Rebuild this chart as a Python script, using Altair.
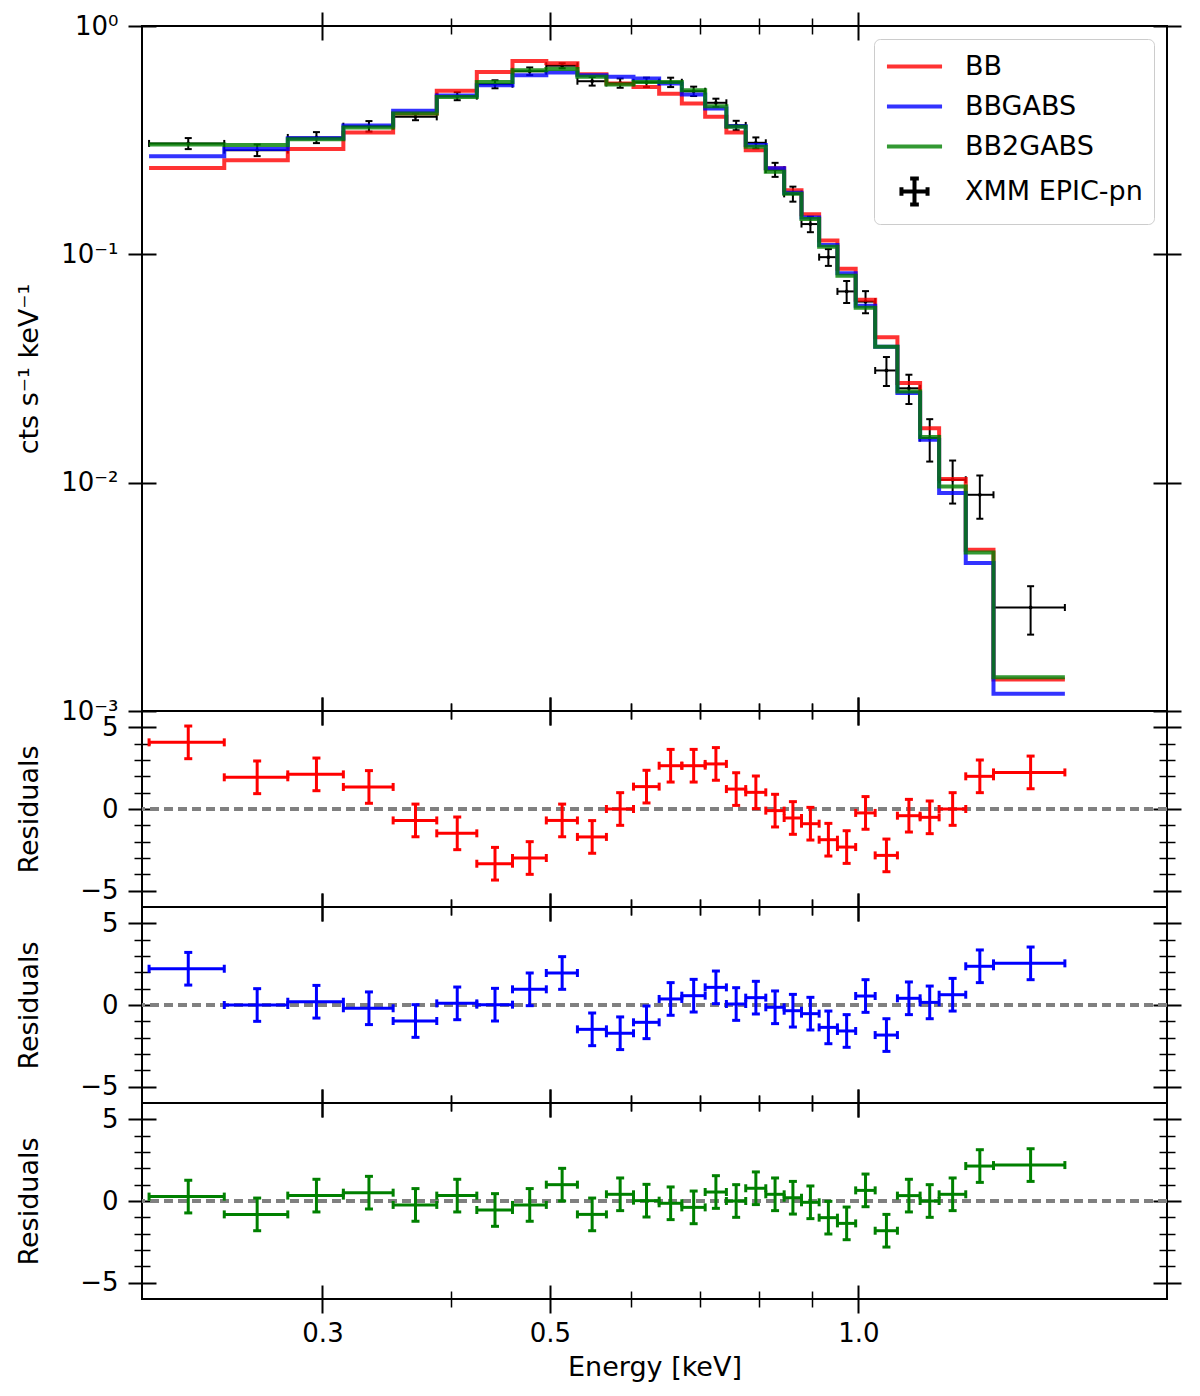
import altair as alt
import pandas as pd

# --- grouped spectrum: bin edges in keV (30 edges -> 29 bins)
EDGES = [0.2032, 0.2406, 0.2775, 0.3144, 0.3516, 0.3878, 0.4243, 0.4597, 0.4960, 0.5319,
         0.5677, 0.6033, 0.6391, 0.6725, 0.7087, 0.7433, 0.7763, 0.8121, 0.8463, 0.8799,
         0.9155, 0.9539, 0.9938, 1.0383, 1.0915, 1.1486, 1.1987, 1.2726, 1.3544, 1.5900]

# --- XMM EPIC-pn data (cts/s/keV) and 1-sigma errors
RATE = [0.306, 0.286, 0.325, 0.364, 0.400, 0.493, 0.556, 0.634, 0.670, 0.573,
        0.563, 0.567, 0.567, 0.518, 0.461, 0.367, 0.308, 0.235, 0.184, 0.1357,
        0.0972, 0.0688, 0.0621, 0.0310, 0.0259, 0.01567, 0.0103, 0.00885, 0.00284]
RATE_ERR = [0.0170, 0.0167, 0.0180, 0.0194, 0.0133, 0.0199, 0.0224, 0.0243, 0.0168, 0.0248,
            0.0266, 0.0268, 0.0268, 0.0245, 0.0195, 0.0174, 0.0171, 0.0166, 0.0139, 0.0107,
            0.0082, 0.0076, 0.0069, 0.0045, 0.0038, 0.0033, 0.0022, 0.0019, 0.00068]

# --- folded models
MODEL_BB = [0.239, 0.258, 0.289, 0.342, 0.414, 0.520, 0.629, 0.703, 0.687, 0.615,
            0.560, 0.541, 0.505, 0.458, 0.400, 0.342, 0.286, 0.238, 0.191, 0.150,
            0.1150, 0.0865, 0.0633, 0.0433, 0.0273, 0.01733, 0.01037, 0.00509, 0.001374]
MODEL_BBGABS = [0.269, 0.289, 0.322, 0.367, 0.425, 0.496, 0.550, 0.609, 0.625, 0.609,
                0.600, 0.589, 0.560, 0.501, 0.435, 0.364, 0.301, 0.238, 0.186, 0.145,
                0.1098, 0.0826, 0.0595, 0.0394, 0.0247, 0.0154, 0.0090, 0.00445, 0.00119]
MODEL_BB2GABS = [0.303, 0.301, 0.319, 0.359, 0.414, 0.489, 0.569, 0.640, 0.648, 0.600,
                 0.554, 0.569, 0.569, 0.523, 0.445, 0.362, 0.296, 0.230, 0.184, 0.1427,
                 0.108, 0.0805, 0.0583, 0.0394, 0.0251, 0.01583, 0.00962, 0.00495, 0.001406]

# --- residuals (data - model) / sigma
RESID_BB = [4.08, 1.94, 2.12, 1.35, -0.70, -1.49, -3.35, -3.00, -0.70, -1.71,
            0.00, 1.37, 2.65, 2.65, 2.76, 1.22, 1.02, -0.10, -0.55, -0.90,
            -1.88, -2.33, -0.24, -2.84, -0.41, -0.51, 0.00, 2.00, 2.24]
RESID_BBGABS = [2.22, 0.00, 0.20, -0.20, -0.98, 0.10, 0.02, 0.96, 1.96, -1.49,
                -1.73, -1.06, 0.37, 0.57, 1.08, 0.06, 0.45, -0.14, -0.35, -0.53,
                -1.37, -1.59, 0.55, -1.84, 0.41, 0.16, 0.63, 2.37, 2.55]
RESID_BB2GABS = [0.27, -0.82, 0.33, 0.51, -0.24, 0.33, -0.55, -0.24, 1.00, -0.82,
                 0.41, 0.02, -0.14, -0.39, 0.55, 0.00, 0.78, 0.41, 0.20, -0.08,
                 -1.02, -1.37, 0.65, -1.82, 0.33, 0.00, 0.41, 2.14, 2.20]
RESID_SIGMA = 1.0

MODELS = ["BB", "BBGABS", "BB2GABS"]
LEGEND_NAMES = MODELS + ["XMM EPIC-pn"]
LINE_COLORS = ["red", "blue", "green"]
LEGEND_COLORS = ["#ff3333", "#3333ff", "#339933", "black"]

# ticks
X_MAJOR = [0.3, 0.5, 1.0]
X_MINOR = [0.4, 0.6, 0.7, 0.8, 0.9]
Y_MAJOR = [1.0, 0.1, 0.01, 0.001]
R_MAJOR = [-5, 0, 5]
R_MINOR = [-4, -3, -2, -1, 1, 2, 3, 4]

W, H_TOP, H_RES = 1025, 685, 196
MAJ, MIN = 28, 16

# --- tables
lo, hi = EDGES[:-1], EDGES[1:]
df = pd.DataFrame({"e_lo": lo, "e_hi": hi, "e_mid": [(a + b) / 2 for a, b in zip(lo, hi)]})
df["rate"] = RATE
df["rate_lo"] = [r - e for r, e in zip(RATE, RATE_ERR)]
df["rate_hi"] = [r + e for r, e in zip(RATE, RATE_ERR)]
for name, res in zip(MODELS, [RESID_BB, RESID_BBGABS, RESID_BB2GABS]):
    df["r_" + name] = res
    df["r_" + name + "_lo"] = [r - RESID_SIGMA for r in res]
    df["r_" + name + "_hi"] = [r + RESID_SIGMA for r in res]

steps = []
for name, vals in zip(MODELS, [MODEL_BB, MODEL_BBGABS, MODEL_BB2GABS]):
    for e, v in zip(EDGES, vals + vals[-1:]):
        steps.append({"model": name, "energy": e, "rate": v})
steps = pd.DataFrame(steps)

xscale = alt.Scale(type="log", domain=[0.2, 2.0], nice=False)
yscale_top = alt.Scale(type="log", domain=[0.001, 1.0], nice=False)
yscale_res = alt.Scale(domain=[-6, 6], nice=False, zero=False)

TOP_LABELS = ("datum.value >= 0.5 ? '10⁰' : datum.value >= 0.05 ? '10⁻¹' : "
              "datum.value >= 0.005 ? '10⁻²' : '10⁻³'")


def tick_layers(yfield, yscale, y_major, y_minor, y_title, height, bottom_labels, label_expr=None):
    """Invisible layers carrying in-out ticks on all four sides."""
    out = []
    for xo, yo, major in [("bottom", "left", True), ("bottom", "left", False),
                          ("top", "right", True), ("top", "right", False)]:
        size = MAJ if major else MIN
        common = dict(tickSize=size, offset=-size / 2, domain=False, grid=False,
                      tickWidth=2 if major else 1.5, tickColor="black")
        xkw = dict(common, orient=xo, values=X_MAJOR if major else X_MINOR,
                   labels=False, title=None)
        if major and xo == "bottom" and bottom_labels:
            xkw.update(labels=True, format=".1f", labelPadding=7,
                       title="Energy [keV]", titlePadding=8)
        yvals = y_major if major else y_minor
        if yvals:
            ykw = dict(common, orient=yo, values=yvals, labels=False, title=None)
            if major and yo == "left":
                ykw.update(labels=True, labelPadding=10, title=y_title,
                           titleX=-127, titleY=height / 2, titleAngle=270,
                           titleAlign="center", titleBaseline="middle")
                if label_expr:
                    ykw["labelExpr"] = label_expr
            yaxis = alt.Axis(**ykw)
        else:
            yaxis = None
        out.append(alt.Chart(df).mark_point(opacity=0).encode(
            x=alt.X("e_mid:Q", scale=xscale, axis=alt.Axis(**xkw)),
            y=alt.Y(f"{yfield}:Q", scale=yscale, axis=yaxis),
        ))
    return out


def errorbars(ycol, ylo, yhi, yscale, color, width, cap):
    base = alt.Chart(df)
    hbar = base.mark_rule(color=color, strokeWidth=width).encode(
        x=alt.X("e_lo:Q", scale=xscale, axis=None), x2="e_hi:Q",
        y=alt.Y(f"{ycol}:Q", scale=yscale, axis=None))
    vbar = base.mark_rule(color=color, strokeWidth=width).encode(
        x=alt.X("e_mid:Q", scale=xscale, axis=None),
        y=alt.Y(f"{ylo}:Q", scale=yscale, axis=None), y2=f"{yhi}:Q")
    caps = []
    for xc in ["e_lo", "e_hi"]:
        caps.append(base.mark_tick(orient="vertical", color=color, size=cap,
                                   thickness=width, opacity=1).encode(
            x=alt.X(f"{xc}:Q", scale=xscale, axis=None),
            y=alt.Y(f"{ycol}:Q", scale=yscale, axis=None)))
    for yc in [ylo, yhi]:
        caps.append(base.mark_tick(orient="horizontal", color=color, size=cap,
                                   thickness=width, opacity=1).encode(
            x=alt.X("e_mid:Q", scale=xscale, axis=None),
            y=alt.Y(f"{yc}:Q", scale=yscale, axis=None)))
    return [hbar, vbar] + caps


# --- top panel: spectrum + models
dots = alt.Chart(df).mark_circle(color="black", size=14, opacity=1).encode(
    x=alt.X("e_mid:Q", scale=xscale, axis=None),
    y=alt.Y("rate:Q", scale=yscale_top, axis=None))

lines = []
for name, col in zip(MODELS, LINE_COLORS):
    lines.append(alt.Chart(steps).mark_line(
        interpolate="step-after", color=col, strokeWidth=4, opacity=0.8
    ).encode(
        x=alt.X("energy:Q", scale=xscale, axis=None),
        y=alt.Y("rate:Q", scale=yscale_top, axis=None),
    ).transform_filter(alt.datum.model == name))

# legend swatches: a long line for the models, an error-bar cross for the data
LINE_SYM = "M-1.9,0H1.9"
CROSS = ("M-0.9,0H0.9M0,-0.9V0.9M-0.9,-0.3V0.3M0.9,-0.3V0.3"
         "M-0.3,-0.9H0.3M-0.3,0.9H0.3")
legend_layer = alt.Chart(pd.DataFrame({"series": LEGEND_NAMES})).mark_point(
    filled=False, opacity=1
).encode(
    color=alt.Color("series:N", scale=alt.Scale(domain=LEGEND_NAMES, range=LEGEND_COLORS),
                    legend=alt.Legend(title=None)),
    shape=alt.Shape("series:N", scale=alt.Scale(domain=LEGEND_NAMES,
                                                range=[LINE_SYM, LINE_SYM, LINE_SYM, CROSS]),
                    legend=alt.Legend(title=None)),
).transform_filter("false")

top = alt.layer(
    *tick_layers("rate", yscale_top, Y_MAJOR, [], "cts s⁻¹ keV⁻¹", H_TOP, False, TOP_LABELS),
    *errorbars("rate", "rate_lo", "rate_hi", yscale_top, "black", 2, 7),
    dots, *lines, legend_layer,
).resolve_axis(x="independent", y="independent").properties(width=W, height=H_TOP)


# --- residual panels
def residual_panel(name, color, last):
    zero = alt.Chart(df).mark_rule(color="#808080", strokeWidth=2.5,
                                   strokeDash=[9, 5]).encode(
        y=alt.YDatum(0, scale=yscale_res, axis=None))
    return alt.layer(
        *tick_layers("r_" + name, yscale_res, R_MAJOR, R_MINOR, "Residuals", H_RES, last),
        zero,
        *errorbars("r_" + name, "r_" + name + "_lo", "r_" + name + "_hi",
                   yscale_res, color, 3, 8),
    ).resolve_axis(x="independent", y="independent").properties(width=W, height=H_RES)


panels = [top] + [residual_panel(n, c, i == 2)
                  for i, (n, c) in enumerate(zip(MODELS, LINE_COLORS))]

chart = alt.vconcat(*panels, spacing=0, bounds="flush").resolve_scale(
    color="independent", shape="independent"
).properties(
    padding={"left": 6, "top": 2, "right": 5, "bottom": 5}
).configure(
    font="DejaVu Sans"
).configure_view(
    stroke="black", strokeWidth=2
).configure_axis(
    labelFont="DejaVu Sans", titleFont="DejaVu Sans",
    labelFontSize=26, titleFontSize=27,
    labelColor="black", titleColor="black", titleFontWeight="normal",
).configure_legend(
    orient="top-right", offset=13, padding=11, fillColor="white",
    strokeColor="#cccccc", cornerRadius=6, labelFont="DejaVu Sans",
    labelFontSize=27, labelColor="black", labelLimit=400, labelOffset=34,
    symbolSize=841, symbolOffset=13, symbolStrokeWidth=4, rowPadding=10,
)

chart.save("out.html", embed_options={"renderer": "svg", "actions": False})
